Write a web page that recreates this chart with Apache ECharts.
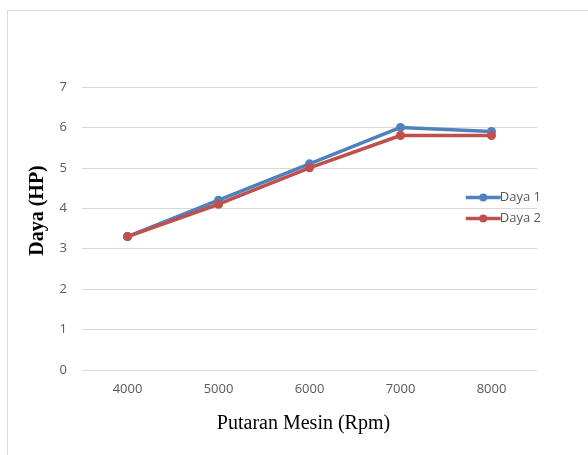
<!DOCTYPE html>
<html><head><meta charset="utf-8">
<script src="https://cdn.jsdelivr.net/npm/echarts@6/dist/echarts.min.js"></script>
<style>html,body{margin:0;padding:0;background:#fff}#c{width:588px;height:455px}</style>
</head><body><div id="c"></div>
<script>
const categories = ['4000', '5000', '6000', '7000', '8000'];
const daya1 = [3.3, 4.2, 5.1, 6.0, 5.9];
const daya2 = [3.3, 4.1, 5.0, 5.8, 5.8];
const yTicks = [0, 1, 2, 3, 4, 5, 6, 7];

const chart = echarts.init(document.getElementById('c'), null, {renderer: 'canvas'});
chart.setOption({
  animation: false,
  backgroundColor: '#fff',
  graphic: [
    {type: 'line', shape: {x1: 7.5, y1: 10.5, x2: 7.5, y2: 455}, style: {stroke: '#d9d9d9', lineWidth: 1}},
    {type: 'line', shape: {x1: 7.5, y1: 10.5, x2: 588, y2: 10.5}, style: {stroke: '#d9d9d9', lineWidth: 1}}
  ],
  grid: {left: 82, right: 51, top: 87, bottom: 85, containLabel: false},
  legend: {
    orient: 'vertical', left: 459, top: 186, itemWidth: 35, itemHeight: 10, itemGap: 8,
    lineStyle: {width: 3.5},
    textStyle: {color: '#595959', fontSize: 13, fontFamily: 'Open Sans', padding: [0, 0, 0, -6]},
    data: ['Daya 1', 'Daya 2']
  },
  xAxis: {
    type: 'category', data: categories, boundaryGap: true,
    name: 'Putaran Mesin (Rpm)', nameLocation: 'middle', nameGap: 44,
    nameTextStyle: {fontFamily: 'Liberation Serif', fontSize: 20, color: '#000', padding: [0, 12, 0, 0]},
    axisLine: {show: false}, axisTick: {show: false},
    axisLabel: {color: '#595959', fontSize: 13, fontFamily: 'Open Sans', margin: 13}
  },
  yAxis: {
    type: 'value', min: 0, max: 7, interval: 1,
    name: 'Daya (HP)', nameLocation: 'middle', nameGap: 34, nameRotate: 90,
    nameTextStyle: {fontFamily: 'Liberation Serif', fontWeight: 'bold', fontSize: 20, color: '#000', padding: [0, 0, 0, 36]},
    axisLine: {show: false}, axisTick: {show: false},
    axisLabel: {color: '#595959', fontSize: 13, fontFamily: 'Open Sans', margin: 15,
      formatter: v => yTicks.includes(v) ? String(v) : ''},
    splitLine: {lineStyle: {color: '#d9d9d9', width: 1}}
  },
  series: [
    {name: 'Daya 1', type: 'line', data: daya1, color: '#4F81BD', symbol: 'circle', symbolSize: 9,
      lineStyle: {width: 3.5}, itemStyle: {color: '#4F81BD'}},
    {name: 'Daya 2', type: 'line', data: daya2, color: '#C0504D', symbol: 'circle', symbolSize: 9,
      lineStyle: {width: 3.5}, itemStyle: {color: '#C0504D'}}
  ]
});
</script></body></html>
